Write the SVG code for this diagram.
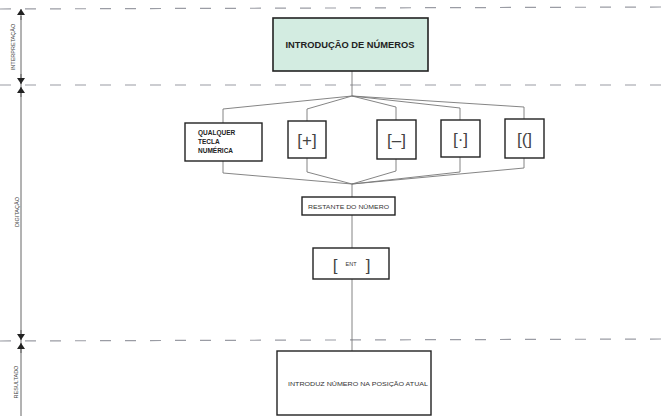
<svg xmlns="http://www.w3.org/2000/svg" width="666" height="416" viewBox="0 0 666 416">
<style>
.dash{stroke:#9a9ca4;stroke-width:1.2;stroke-dasharray:11 14;fill:none}
.axis{stroke:#555;stroke-width:0.9;fill:none}
.conn{stroke:#777;stroke-width:0.9;fill:none}
.box{fill:#fff;stroke:#222;stroke-width:1.4}
.t{font-family:"Liberation Sans",Arial,sans-serif;font-weight:bold;fill:#222}
.n{font-family:"Liberation Sans",Arial,sans-serif;font-weight:normal;fill:#333}
.side{font-family:"Liberation Sans",Arial,sans-serif;font-size:5.5px;fill:#444}
.br{font-family:"Liberation Sans",Arial,sans-serif;fill:#444;font-size:17px}
</style>
<defs>
<marker id="ah" viewBox="0 0 6 8" refX="6" refY="4" markerWidth="6" markerHeight="8" orient="auto" markerUnits="userSpaceOnUse">
<path d="M0,0 L6,4 L0,8 z" fill="#222"/>
</marker>
</defs>
<rect width="666" height="416" fill="#fff"/>
<g id="guides">
<line class="dash" x1="0" y1="9" x2="666" y2="7"/>
<line class="dash" x1="0" y1="85" x2="666" y2="85"/>
<line class="dash" x1="0" y1="341" x2="666" y2="339"/>
<line class="axis" x1="21" y1="16" x2="21" y2="416"/>
<line class="axis" x1="21" y1="20" x2="21" y2="9" marker-end="url(#ah)"/>
<line class="axis" x1="21" y1="74" x2="21" y2="84" marker-end="url(#ah)"/>
<line class="axis" x1="21" y1="97" x2="21" y2="87" marker-end="url(#ah)"/>
<line class="axis" x1="21" y1="330" x2="21" y2="340" marker-end="url(#ah)"/>
<line class="axis" x1="21" y1="353" x2="21" y2="343" marker-end="url(#ah)"/>
<text class="side" transform="translate(15,47) rotate(-90)" text-anchor="middle">INTERPRETAÇÃO</text>
<text class="side" transform="translate(19,212) rotate(-90)" text-anchor="middle">DIGITAÇÃO</text>
<text class="side" transform="translate(18,382) rotate(-90)" text-anchor="middle">RESULTADO</text>
</g>
<g id="connectors">
<line class="conn" x1="352" y1="71" x2="352" y2="96"/>
<polyline class="conn" points="223,123 223,109 352,96 307,109 307,121"/>
<polyline class="conn" points="352,96 396,107 396,120"/>
<polyline class="conn" points="352,96 460,108 460,120"/>
<polyline class="conn" points="352,96 524,107 524,119"/>
<polyline class="conn" points="223,161 223,173 352,184 307,172 307,158"/>
<polyline class="conn" points="352,184 396,171 396,159"/>
<polyline class="conn" points="352,184 460,172 460,157"/>
<polyline class="conn" points="352,184 524,168 524,158"/>
<line class="conn" x1="352" y1="184" x2="352" y2="197"/>
<line class="conn" x1="352" y1="215" x2="352" y2="248"/>
<line class="conn" x1="352" y1="279" x2="352" y2="351"/>
</g>
<g id="n_intro">
<rect x="273" y="18" width="155" height="53" fill="#d3ece1" stroke="#222" stroke-width="1.6"/>
<text class="t" x="350" y="48" font-size="8.5" text-anchor="middle" textLength="129" lengthAdjust="spacingAndGlyphs">INTRODUÇÃO DE NÚMEROS</text>
</g>
<g id="n_qualquer">
<rect class="box" x="185" y="123" width="77" height="38"/>
<text class="t" x="198" y="135" font-size="6.5">QUALQUER</text>
<text class="t" x="198" y="144" font-size="6.5">TECLA</text>
<text class="t" x="198" y="153" font-size="6.5">NUMÉRICA</text>
</g>
<g id="n_plus">
<rect class="box" x="288" y="121" width="38" height="37"/>
<text class="br" x="307" y="146" text-anchor="middle">[+]</text>
</g>
<g id="n_minus">
<rect class="box" x="377" y="120" width="39" height="39"/>
<text class="br" x="396.5" y="146" text-anchor="middle">[–]</text>
</g>
<g id="n_dot">
<rect class="box" x="441" y="120" width="39" height="37"/>
<text class="br" x="460.5" y="145" text-anchor="middle">[·]</text>
</g>
<g id="n_paren">
<rect class="box" x="505" y="119" width="39" height="39"/>
<text class="br" x="524.5" y="145" text-anchor="middle">[(]</text>
</g>
<g id="n_restante">
<rect class="box" x="302" y="197" width="93" height="18" stroke-width="1.1"/>
<text class="n" x="348.5" y="208.5" font-size="6" text-anchor="middle" textLength="81" lengthAdjust="spacingAndGlyphs">RESTANTE DO NÚMERO</text>
</g>
<g id="n_ent">
<rect class="box" x="313" y="248" width="76" height="31" stroke-width="1.1"/>
<text class="br" x="335" y="271" font-size="20" text-anchor="middle">[</text>
<text class="n" x="351" y="266" font-size="5.5" text-anchor="middle">ENT</text>
<text class="br" x="368" y="271" font-size="20" text-anchor="middle">]</text>
</g>
<g id="n_result">
<rect class="box" x="277" y="351" width="154" height="64" stroke-width="1.1"/>
<text class="n" x="288" y="386" font-size="5.5" textLength="140" lengthAdjust="spacingAndGlyphs">INTRODUZ NÚMERO NA POSIÇÃO ATUAL</text>
</g>
</svg>
